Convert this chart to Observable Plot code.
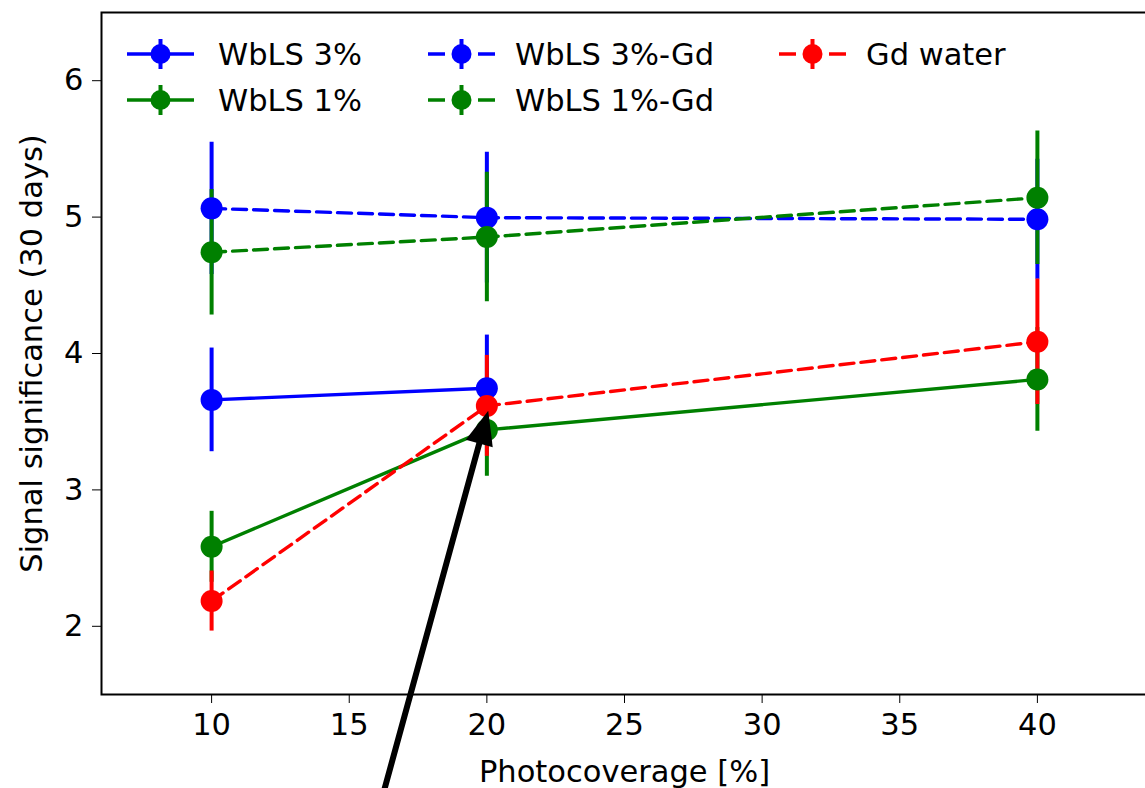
<!DOCTYPE html>
<html><head><meta charset="utf-8">
<script src="https://cdn.jsdelivr.net/npm/d3@7"></script>
<script src="https://cdn.jsdelivr.net/npm/@observablehq/plot@0.6"></script>
<style>
body{margin:0;background:#fff;}
#wrap{position:relative;width:1145px;height:788px;overflow:hidden;font-family:"DejaVu Sans",sans-serif;}
.item{position:absolute;display:flex;align-items:center;font-size:30.5px;color:#000;white-space:nowrap;}
.item svg{display:block;}
</style></head><body>
<div id="wrap"><div id="chart"></div><div id="legend"></div></div>
<script>
// ---- data ----
const photocoverage = [10, 20, 40];
const seriesNames = ["WbLS 3%", "WbLS 1%", "WbLS 3%-Gd", "WbLS 1%-Gd", "Gd water"];
const seriesColors = ["#0000ff", "#008000", "#0000ff", "#008000", "#ff0000"];
const seriesDashed = [false, false, true, true, true];
const wbls3 = [3.66, 3.745, null];
const wbls3Err = [0.38, 0.39, null];
const wbls1 = [2.583, 3.44, 3.81];
const wbls1Err = [0.26, 0.34, 0.38];
const wbls3Gd = [5.064, 4.996, 4.984];
const wbls3GdErr = [0.485, 0.48, 0.44];
const wbls1Gd = [4.742, 4.854, 5.142];
const wbls1GdErr = [0.46, 0.475, 0.49];
const gdWater = [2.185, 3.616, 4.086];
const gdWaterErr = [0.22, 0.37, 0.46];
const xTicks = [10, 15, 20, 25, 30, 35, 40];
const yTicks = [2, 3, 4, 5, 6];
const xLabel = "Photocoverage [%]";
const yLabel = "Signal significance (30 days)";
// annotation arrow (tail below the axes, tip at the Gd water point at 20 %)
const arrowTail = {x: 16.0, y: 0.6};
const arrowTip = {x: 20.05, y: 3.58};

const seriesValues = [wbls3, wbls1, wbls3Gd, wbls1Gd, gdWater];
const seriesErrors = [wbls3Err, wbls1Err, wbls3GdErr, wbls1GdErr, gdWaterErr];

const rows = [];
seriesNames.forEach((name, s) => {
  photocoverage.forEach((x, i) => {
    const y = seriesValues[s][i];
    if (y == null) return;
    const e = seriesErrors[s][i];
    rows.push({series: name, s, x, y, lo: y - e, hi: y + e});
  });
});

const errMarks = seriesNames.map((name, s) =>
  Plot.ruleX(rows.filter(d => d.s === s), {x: "x", y1: "lo", y2: "hi", stroke: seriesColors[s], strokeWidth: 4})
);
const lineMarks = seriesNames.flatMap((name, s) => {
  const data = rows.filter(d => d.s === s);
  return [
    Plot.line(data, {x: "x", y: "y", stroke: seriesColors[s], strokeWidth: 3.4,
      strokeDasharray: seriesDashed[s] ? "14,7" : null}),
    Plot.dot(data, {x: "x", y: "y", r: 11, fill: seriesColors[s], stroke: "none"})
  ];
});

// arrow head symbol: tip at the origin, pointing up
const headSymbol = {draw(ctx) { ctx.moveTo(0, 0); ctx.lineTo(-14, 34); ctx.lineTo(14, 34); ctx.closePath(); }};
const pxPerX = (1147 - 101) / 38, pxPerY = (694 - 12) / 5;
const headAngle = Math.atan2((arrowTip.x - arrowTail.x) * pxPerX, (arrowTip.y - arrowTail.y) * pxPerY) * 180 / Math.PI;

const chart = Plot.plot({
  width: 1145,
  height: 788,
  marginLeft: 101,
  marginRight: -2,
  marginTop: 12,
  marginBottom: 94,
  style: {fontFamily: "DejaVu Sans, sans-serif", fontSize: "30.5px", color: "#000", background: "#fff", overflow: "visible"},
  x: {domain: [6, 44], ticks: xTicks, tickSize: 9, tickPadding: 10, label: null, tickFormat: d => String(d)},
  y: {domain: [1.5, 6.5], ticks: yTicks, tickSize: 9, tickPadding: 9, label: null, tickFormat: d => String(d)},
  marks: [
    ...errMarks,
    ...lineMarks,
    Plot.frame({stroke: "#000", strokeWidth: 2}),
    Plot.arrow([{x1: arrowTail.x, y1: arrowTail.y, x2: arrowTip.x, y2: arrowTip.y}],
      {x1: "x1", y1: "y1", x2: "x2", y2: "y2", stroke: "#000", strokeWidth: 6, headLength: 0, insetEnd: 26}),
    Plot.dot([arrowTip], {x: "x", y: "y", symbol: headSymbol, r: 10, fill: "#000", stroke: "none", rotate: headAngle}),
    Plot.text([xLabel], {frameAnchor: "bottom", text: d => d, dy: 78, lineAnchor: "middle", textAnchor: "middle", fontSize: 30.5}),
    Plot.text([yLabel], {frameAnchor: "left", text: d => d, dx: -69, rotate: -90, lineAnchor: "middle", textAnchor: "middle", fontSize: 30.5})
  ]
});
document.getElementById("chart").appendChild(chart);

// ---- legend (inside the axes, top-left) ----
const legendPos = [
  {left: 127, top: 54}, {left: 127, top: 100},
  {left: 428, top: 54}, {left: 428, top: 100},
  {left: 779, top: 54}
];
const legend = document.getElementById("legend");
seriesNames.forEach((name, s) => {
  const p = legendPos[s];
  const div = document.createElement("div");
  div.className = "item";
  div.style.left = p.left + "px";
  div.style.top = (p.top - 20) + "px";
  div.style.height = "40px";
  const c = seriesColors[s];
  const dash = seriesDashed[s] ? ' stroke-dasharray="17,8"' : '';
  div.innerHTML = `<svg width="67" height="40" viewBox="0 0 67 40">
    <line x1="0" y1="20" x2="67" y2="20" stroke="${c}" stroke-width="3.4"${dash}/>
    <line x1="33.5" y1="5" x2="33.5" y2="35" stroke="${c}" stroke-width="4"/>
    <circle cx="33.5" cy="20" r="10" fill="${c}"/>
  </svg><span style="margin-left:${s < 2 ? 24 : 20}px">${name}</span>`;
  legend.appendChild(div);
});
</script>
</body></html>
